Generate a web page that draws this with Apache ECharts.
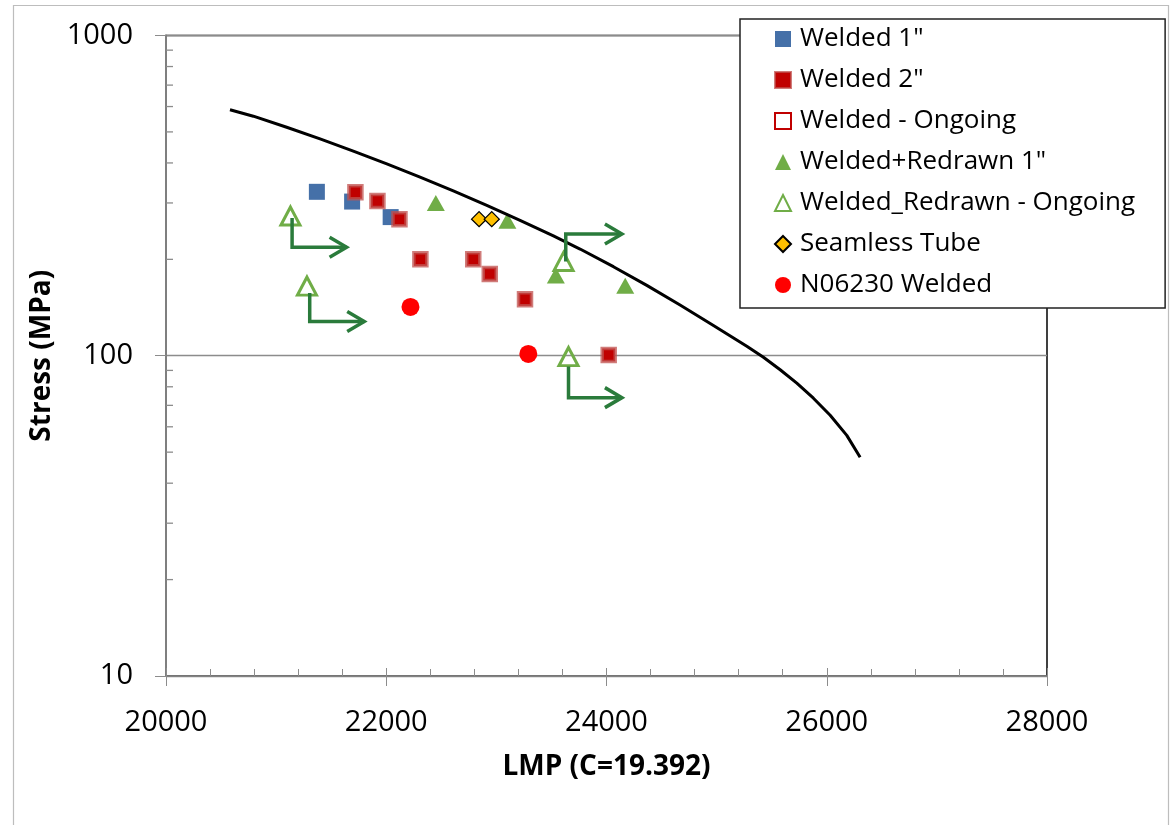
<!DOCTYPE html>
<html>
<head>
<meta charset="utf-8">
<script src="https://cdn.jsdelivr.net/npm/echarts@6/dist/echarts.min.js"></script>
<style>
  html, body { margin: 0; padding: 0; background: #fff; }
  #chart { width: 1171px; height: 825px; }
</style>
</head>
<body>
<div id="chart"></div>
<script>
// LMP / stress pairs
const welded1 = [[21370, 325], [21690, 303], [22040, 271]];
const welded2 = [[21720, 324], [21920, 304], [22120, 267], [22310, 200], [22790, 200],
                 [22940, 180], [23260, 150], [24020, 100.6]];
const weldedOngoing = [];
const redrawn1 = [[22450, 300], [23100, 264], [23540, 178], [24170, 165.5]];
const redrawnOngoing = [[21130, 273], [21280, 165], [23610, 197], [23655, 99.4]];
const seamless = [[22843, 267], [22958, 267]];
const n06230 = [[22220, 142], [23290, 101.3]];

// master curve
const curveLmp = [20581, 20793, 21096, 21399, 21701, 22005, 22307, 22609, 22913, 23215, 23518,
                  23760, 24063, 24366, 24668, 24971, 25274, 25425, 25577, 25728, 25879, 26031,
                  26182, 26303];
const curveStress = [586.6, 559.8, 517.2, 475.6, 435.4, 397.2, 361.1, 327.2, 295.0, 264.9, 236.6,
                     215.4, 189.7, 165.9, 144.1, 124.3, 107.1, 98.9, 90.4, 82.1, 73.7, 65.2,
                     56.4, 48.2];

// runout arrows for ongoing tests (vertical at arrowX, from arrowFrom to arrowCorner, then right to arrowTip)
const arrowX = [21145, 21305, 23630, 23655];
const arrowFrom = [269, 157, 197, 92.5];
const arrowCorner = [218, 128, 240, 74];
const arrowTip = [21640, 21800, 24140, 24140];

// log axis minor tick values
const yMinor = [20, 30, 40, 50, 60, 70, 80, 90, 200, 300, 400, 500, 600, 700, 800, 900];
const xTicks = { min: 20000, max: 28000, interval: 2000 };
const yTicks = { min: 10, max: 1000 };

const FONT = 'Open Sans';

const curve = curveLmp.map((x, i) => [x, curveStress[i]]);
const arrows = arrowX.map((x, i) => [x, arrowFrom[i], arrowCorner[i], arrowTip[i]]);

function renderArrow(params, api) {
  const x = api.value(0);
  const p0 = api.coord([x, api.value(1)]);
  const p1 = api.coord([x, api.value(2)]);
  const p2 = api.coord([api.value(3), api.value(2)]);
  const stroke = { stroke: '#2A7B3B', lineWidth: 3.5, fill: null };
  return {
    type: 'group',
    children: [
      { type: 'polyline', shape: { points: [p0, p1, p2] }, style: stroke },
      { type: 'polyline', shape: { points: [[p2[0] - 17, p2[1] - 10], p2, [p2[0] - 17, p2[1] + 10]] }, style: stroke }
    ]
  };
}

function renderMinor(params, api) {
  const p = api.coord([xTicks.min, api.value(0)]);
  return {
    type: 'line',
    shape: { x1: p[0], y1: p[1], x2: p[0] + 7, y2: p[1] },
    style: { stroke: '#8C8C8C', lineWidth: 1.3 }
  };
}

const plain = v => String(v);

const chart = echarts.init(document.getElementById('chart'));

const option = {
  animation: false,
  backgroundColor: '#fff',
  graphic: [{
    type: 'rect',
    shape: { x: 13.5, y: 5.5, width: 1155, height: 840 },
    style: { fill: null, stroke: '#BDBDBD', lineWidth: 1.2 },
    silent: true,
    z: -10
  }],
  grid: {
    left: 166,
    right: 124,
    top: 35.5,
    bottom: 149,
    show: true,
    borderColor: '#111',
    borderWidth: 1.6
  },
  legend: {
    orient: 'vertical',
    left: 740,
    top: 19,
    padding: [7, 30, 10, 34],
    itemGap: 15,
    itemWidth: 16,
    itemHeight: 16,
    backgroundColor: '#fff',
    borderColor: '#222',
    borderWidth: 1.5,
    borderRadius: 0,
    textStyle: { fontFamily: FONT, fontSize: 26, color: '#000', padding: [0, 0, 0, 4] },
    data: ['Welded 1"', 'Welded 2"', 'Welded - Ongoing', 'Welded+Redrawn 1"',
           'Welded_Redrawn - Ongoing', 'Seamless Tube', 'N06230 Welded'],
    z: 20
  },
  xAxis: [{
    type: 'value',
    min: xTicks.min,
    max: xTicks.max,
    interval: xTicks.interval,
    name: 'LMP (C=19.392)',
    nameLocation: 'middle',
    nameGap: 77,
    nameTextStyle: { fontFamily: FONT, fontSize: 28, fontWeight: 'bold', color: '#000' },
    axisLine: { show: true, lineStyle: { color: '#7F7F7F', width: 1.6 } },
    axisTick: { show: true, inside: false, length: 10, lineStyle: { color: '#8C8C8C' } },
    axisLabel: { fontFamily: FONT, fontSize: 29, color: '#000', margin: 32, formatter: plain },
    splitLine: { show: false }
  }, {
    type: 'value',
    min: xTicks.min,
    max: xTicks.max,
    interval: xTicks.interval,
    position: 'bottom',
    axisLine: { show: false },
    axisTick: { show: true, inside: true, length: 8, lineStyle: { color: '#8C8C8C' } },
    minorTick: { show: true, splitNumber: 5, length: 7, lineStyle: { color: '#8C8C8C' } },
    axisLabel: { show: false },
    splitLine: { show: false }
  }],
  yAxis: {
    type: 'log',
    logBase: 10,
    min: yTicks.min,
    max: yTicks.max,
    name: 'Stress (MPa)',
    nameLocation: 'middle',
    nameGap: 101,
    nameRotate: 90,
    nameTextStyle: { fontFamily: FONT, fontSize: 28, fontWeight: 'bold', color: '#000' },
    axisLine: { show: true, lineStyle: { color: '#7F7F7F', width: 2 } },
    axisTick: { show: true, inside: false, length: 11, lineStyle: { color: '#8C8C8C' } },
    axisLabel: { fontFamily: FONT, fontSize: 29, color: '#000', margin: 33, formatter: plain },
    splitLine: { show: true, lineStyle: { color: '#8C8C8C', width: 1.3 } }
  },
  series: [
    {
      name: 'Welded 1"', type: 'scatter', data: welded1,
      symbol: 'rect', symbolSize: 16,
      itemStyle: { color: '#4570A8', opacity: 1 }
    },
    {
      name: 'Welded 2"', type: 'scatter', data: welded2,
      symbol: 'rect', symbolSize: 13,
      itemStyle: { color: '#C00000', borderColor: 'rgba(192,80,77,0.75)', borderWidth: 3.5, opacity: 1 }
    },
    {
      name: 'Welded - Ongoing', type: 'scatter', data: weldedOngoing,
      symbol: 'rect', symbolSize: 14,
      itemStyle: { color: '#fff', borderColor: '#C00000', borderWidth: 2.5, opacity: 1 }
    },
    {
      name: 'Welded+Redrawn 1"', type: 'scatter', data: redrawn1,
      symbol: 'triangle', symbolSize: [18, 16],
      itemStyle: { color: '#70AD47', opacity: 1 }
    },
    {
      name: 'Welded_Redrawn - Ongoing', type: 'scatter', data: redrawnOngoing,
      symbol: 'triangle', symbolSize: [19, 18],
      itemStyle: { color: 'rgba(255,255,255,0)', borderColor: '#70AD47', borderWidth: 3, opacity: 1 }
    },
    {
      name: 'Seamless Tube', type: 'scatter', data: seamless,
      symbol: 'diamond', symbolSize: 15,
      itemStyle: { color: '#FFC000', borderColor: '#000', borderWidth: 1.3, opacity: 1 }
    },
    {
      name: 'N06230 Welded', type: 'scatter', data: n06230,
      symbol: 'circle', symbolSize: 18,
      itemStyle: { color: '#FF0000', opacity: 1 }
    },
    {
      name: 'runout', type: 'custom', data: arrows,
      renderItem: renderArrow, silent: true, z: 5
    },
    {
      name: 'curve', type: 'line', data: curve,
      showSymbol: false, smooth: false, silent: true,
      lineStyle: { color: '#000', width: 3, join: 'round' }, z: 4
    },
    {
      name: 'yminor', type: 'custom', data: yMinor.map(v => [v]),
      encode: { y: 0 },
      renderItem: renderMinor, silent: true, clip: false, z: 6
    }
  ]
};

chart.setOption(option);
</script>
</body>
</html>
